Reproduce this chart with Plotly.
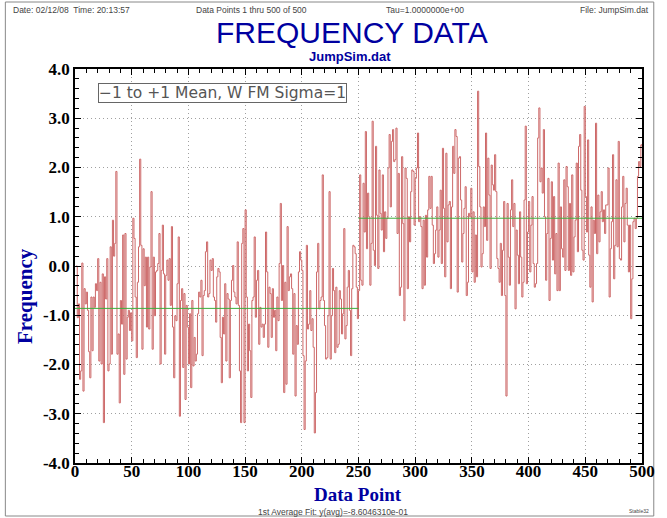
import plotly.graph_objects as go

# ---- data ----
seg1 = [0.0, -1.05, -0.77, -2.3, -2.13, 0.06, -2.54, -0.46, -0.77, -0.53,
        -0.9, -1.74, -2.27, -0.63, -1.72, -0.63, -0.84, -0.36, -0.5, 0.15,
        -1.93, -0.33, -1.99, -0.16, -3.18, -0.22, -0.67, 0.15, -2.13, -1.99,
        0.39, -1.79, 0.93, 0.2, 0.46, 1.92, -1.79, -1.38, -2.78, -0.70,
        -1.18, 0.63, -2.2, 0.66, -1.89, -1.04, -0.9, -1.31, -0.95, -1.52,
        0.97, 0.56, -0.63, -1.86, -0.33, 0.39, 2.17, 0.42, -1.69, 0.35,
        -0.4, 0.18, -1.24]
seg2 = [0.18, -1.28, -0.02, 1.51, -1.69, 0.18, -1.01, -0.12, -0.09, 0.05,
        0.66, -1.99, -0.09, 0.83, -0.16, -1.79, -0.19, 0.12, -0.29, 0.15,
        -0.8, 0.8, -1.24, -2.27, -1.01, -1.11, -0.36, 0.59, -3.05, -0.7,
        -0.46, -2.06, -0.56, -2.71, -0.8, -1.24, -1.99, -0.97, -2.47, -0.7,
        -2.03, -1.45, -1.93, -1.79, -0.97, -0.53, -0.63, -0.29, -1.82, -0.6,
        -0.5, 0.29, 0.49, -0.63, -0.56, 0.12, -0.09, 0.15, -0.63, -0.7,
        -1.14, -0.22, -0.05]
seg3 = [-0.12, -1.45, -2.37, -1.04, -1.38, -0.36, -1.93, -0.56, -0.67, -2.27,
        -0.7, -0.29, 0.01, -0.53, -0.63, -0.77, 0.49, -0.8, -2.13, -3.18,
        0.46, 0.76, -3.18, 1.14, -0.63, -2.13, -1.18, -1.72, -2.67, -0.7,
        -0.63, 0.59, -1.04, -0.29, -0.09, -1.59, -0.84, -1.24, -1.18, -1.45,
        -1.18, 0.69, -0.12, -1.65, -0.43, -0.56, -1.45, -0.46, -1.04, -0.9,
        -1.72, -0.63, -1.11, 0.05, 1.27, -0.7, 0.01, -2.57, -0.33, -2.4,
        0.8, -0.5, -0.22]
seg4 = [-0.16, -0.46, -1.79, -0.56, -2.64, -1.21, -1.59, -0.12, 0.29, 0.12,
        -0.09, -1.82, -3.32, -1.93, 0.42, -1.28, -1.18, -0.5, -1.31, -1.07,
        -1.65, -3.39, -2.57, -0.12, 0.46, -0.87, -0.7, -0.63, 1.85, -0.7,
        -1.21, -1.89, -1.86, -1.01, 1.51, -1.89, -1.01, -0.05, -0.5, -1.76,
        -0.43, -1.65, -1.59, -0.5, -0.67, -1.38, -0.97, 0.76, -1.48, -1.21,
        -0.43, -0.09, -0.9, -1.82, -0.46, 0.42, 0.39, 0.25, -0.43, -1.07,
        -0.5]
seg5 = [1.85, -0.29, -0.39, 1.68, 0.69, 2.73, 0.35, 1.48, 1.0, -0.39,
        0.46, 2.94, 0.32, 0.01, 2.43, 1.03, -0.05, 1.95, 1.07, 0.73,
        1.85, 0.29, 1.1, 0.56, 0.97, 1.99, 2.67, 1.2, 2.53, 2.77,
        2.12, 2.16, 2.8, 0.66, 1.88, -0.6, -0.43, 2.22, 0.86, -1.11,
        1.99, 1.78, -0.46, 1.0, 0.49, 1.51, 1.95, 1.92, 0.83, 1.78,
        1.99, 2.7, 0.9, 1.0, 0.8, -0.46, 0.93, -0.39, 1.03, 0.18,
        1.14, 1.82, 1.17]
seg6 = [1.82, 0.83, 0.05, 0.25, 0.73, 1.2, 0.18, 0.73, 1.54, 0.05,
        2.39, 1.17, -0.22, 2.29, 0.49, 1.24, 1.31, -0.46, 1.2, 2.43,
        1.88, 2.77, 2.63, -0.53, 2.19, 2.22, 1.34, 0.08, 0.66, 1.17,
        1.61, -0.6, -0.33, 1.07, 1.0, 1.58, -0.12, 1.1, -0.33, 0.63,
        -0.22, 3.55, 2.02, 1.2, -0.02, 0.25, 1.2, 0.8, 2.7, 0.52,
        2.19, 1.44, -0.05, 2.05, 1.65, 1.54, 2.26, 1.51, 0.15, -0.05,
        -0.33, 0.46, -0.6]
seg7 = [0.32, 1.31, -0.6, -2.64, 1.27, 0.18, -0.39, 1.14, 1.75, 0.8,
        1.27, -0.87, 0.73, 0.22, -0.36, 1.1, 0.18, -0.63, -0.33, 1.34,
        2.84, -0.36, 0.69, 1.31, -0.12, 0.83, 1.41, 0.05, -0.43, -0.36,
        0.05, 2.6, 3.21, 1.71, 1.99, 1.48, 2.77, 1.0, -0.29, 0.66,
        1.78, -0.7, 0.56, 1.71, 0.12, 1.41, -0.16, 0.66, -0.5, 2.09,
        -0.5, 1.2, 0.35, 0.18, 1.75, -0.09, 2.02, 1.61, -0.09, 1.27,
        -0.19, 1.85, -0.12]
seg8 = [0.59, 0.93, 2.09, 0.29, 2.43, 2.67, 1.54, 0.32, 0.12, 3.24,
        1.41, 0.69, 2.56, 0.22, -0.43, 1.2, -0.73, 0.93, 0.66, 2.9,
        0.25, 1.44, 0.49, 1.1, 1.51, 0.9, 1.14, 0.66, 1.24, 1.24,
        1.99, -0.63, 0.35, 0.9, 2.26, -0.26, 0.42, 1.75, 0.39, 2.53,
        0.15, 0.12, 1.2, 1.82, 0.49, 1.27, 1.58, 0.83, -0.12, 0.83,
        -1.07, -0.26, 0.9, 0.97, 0.76, 0.97, 1.82, 2.12, 2.02, 2.46,
        2.43]

freq = seg1 + seg2 + seg3 + seg4 + seg5 + seg6 + seg7 + seg8
points = list(range(1, len(freq) + 1))

avg_x1 = [0, 250]
avg_y1 = [-0.86046310, -0.86046310]
avg_x2 = [250, 500]
avg_y2 = [0.97, 0.97]

x_ticks = [0, 50, 100, 150, 200, 250, 300, 350, 400, 450, 500]
y_ticks = [-4, -3, -2, -1, 0, 1, 2, 3, 4]

# ---- layout geometry (pixels) ----
W, H = 667, 518
L, R, T, B = 75, 653, 69, 463


def px(x):
    return (x - L) / (R - L)


def py(y):
    return (B - y) / (B - T)


RED = "rgb(205,105,105)"
GREEN = "rgb(60,175,60)"
BLUE = "#0000A0"
GRAY = "#444444"

fig = go.Figure()
fig.add_trace(go.Scatter(x=points, y=freq, mode="lines",
                         line=dict(color=RED, width=1, shape="hv"),
                         showlegend=False, hoverinfo="skip"))
fig.add_trace(go.Scatter(x=avg_x1, y=avg_y1, mode="lines",
                         line=dict(color=GREEN, width=1), showlegend=False))
fig.add_trace(go.Scatter(x=avg_x2, y=avg_y2, mode="lines",
                         line=dict(color=GREEN, width=1), showlegend=False))

axis_common = dict(
    showline=True, linecolor="black", linewidth=1.5, mirror="ticks",
    ticks="inside", ticklen=6, tickcolor="black", tickwidth=1,
    showgrid=True, gridcolor="#a0a0a0", griddash="1px,3px", gridwidth=1,
    zeroline=False,
    tickfont=dict(family="Liberation Serif", size=17, color="black"),
)

fig.update_xaxes(range=[0, 500], tickvals=x_ticks,
                 ticktext=[f"<b>{v}</b>" for v in x_ticks],
                 ticklabelstandoff=-8,
                 minor=dict(dtick=10, ticks="inside", ticklen=4,
                            tickcolor="black", showgrid=False),
                 **axis_common)
fig.update_yaxes(range=[-4, 4], tickvals=y_ticks,
                 ticktext=[f"<b>{v:.1f}</b>" for v in y_ticks],
                 minor=dict(dtick=0.2, ticks="inside", ticklen=4,
                            tickcolor="black", showgrid=False),
                 **axis_common)

small = dict(family="Liberation Sans", size=8.5, color=GRAY)
ann = [
    dict(text="Date: 02/12/08  Time: 20:13:57", x=px(10), y=py(10), xanchor="left", font=small),
    dict(text="Data Points 1 thru 500 of 500", x=px(196), y=py(10), xanchor="left", font=small),
    dict(text="Tau=1.0000000e+00", x=px(390), y=py(10), xanchor="left", font=small),
    dict(text="File: JumpSim.dat", x=px(662), y=py(10), xanchor="right", font=small),
    dict(text="FREQUENCY DATA", x=px(357), y=py(33), xanchor="center",
         font=dict(family="Liberation Sans", size=30, color=BLUE)),
    dict(text="<b>JumpSim.dat</b>", x=px(355), y=py(56), xanchor="center",
         font=dict(family="Liberation Sans", size=13, color=BLUE)),
    dict(text="<b>Data Point</b>", x=px(363), y=py(494), xanchor="center",
         font=dict(family="Liberation Serif", size=19, color=BLUE)),
    dict(text="<b>Frequency</b>", x=px(24), y=py(296), xanchor="center", textangle=-90,
         font=dict(family="Liberation Serif", size=21, color=BLUE)),
    dict(text="1st Average Fit: y(avg)=-8.6046310e-01", x=px(338), y=py(512), xanchor="center",
         font=dict(family="Liberation Sans", size=8.5, color=GRAY)),
    dict(text="Stable32", x=px(662), y=py(511), xanchor="right",
         font=dict(family="Liberation Sans", size=5, color=GRAY)),
    dict(text="\u22121 to +1 Mean, W FM Sigma=1", x=px(98), y=py(93), xanchor="left",
         font=dict(family="DejaVu Sans", size=15.5, color="#555555"),
         bordercolor="#666666", borderwidth=1, borderpad=0, bgcolor="white"),
]
for a in ann:
    a.update(xref="paper", yref="paper", showarrow=False, yanchor="middle")

shapes = [
    dict(type="rect", xref="paper", yref="paper",
         x0=px(4), x1=px(665), y0=py(2), y1=py(516),
         line=dict(color="#888888", width=1), layer="below"),
]

fig.update_layout(
    width=W, height=H, autosize=False,
    margin=dict(l=L, r=W - R, t=T, b=H - B),
    paper_bgcolor="white", plot_bgcolor="white",
    annotations=ann, shapes=shapes, showlegend=False,
)

fig.write_html("out.html")
